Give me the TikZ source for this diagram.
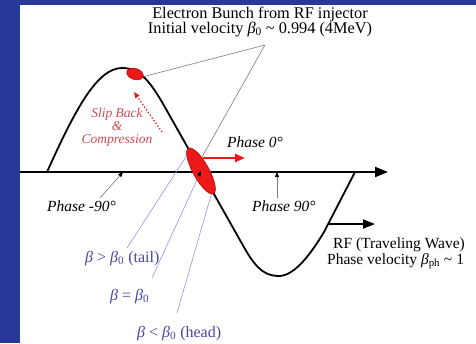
\documentclass[tikz,border=0pt]{standalone}
\usepackage{fontspec}
\setmainfont{Liberation Serif}
\usetikzlibrary{arrows.meta,shapes.geometric,calc}
\definecolor{bgblue}{RGB}{40,56,152}
\definecolor{bred}{RGB}{235,25,25}
\definecolor{slipred}{RGB}{212,72,84}
\definecolor{betablue}{RGB}{72,72,165}
\definecolor{lav}{RGB}{150,150,225}
\definecolor{pgray}{RGB}{125,125,125}
\begin{document}
\begin{tikzpicture}[x=1pt,y=-1pt,
  txt/.style={font=\fontsize{16.3}{15}\selectfont, inner sep=0pt, anchor=base},
  ptxt/.style={font=\fontsize{15.5}{15}\selectfont\itshape, inner sep=0pt, anchor=base west},
  btxt/.style={font=\fontsize{16}{15}\selectfont, text=betablue, inner sep=0pt, anchor=base west},
  stxt/.style={font=\fontsize{13.5}{13}\selectfont\itshape, text=slipred, inner sep=0pt, anchor=base},
  wave/.style={line width=1.8pt, black},
  axisline/.style={line width=2.2pt, black, -{Triangle[length=13pt,width=10pt]}},
  gline/.style={line width=0.6pt, pgray},
  lline/.style={line width=0.6pt, lav},
  tick/.style={line width=0.6pt, pgray, -{Triangle[length=5pt,width=4pt,color=black]}},
  bunchst/.style={ellipse, draw=red!70!black, line width=0.5pt, fill=bred, inner sep=0pt}
]
\useasboundingbox (0,0) rectangle (476,343);
\fill[bgblue] (0,0) rectangle (476,343);
\fill[white] (20,5) rectangle (476,343);

% axis
\coordinate (axL) at (20,172);
\coordinate (axR) at (388,172);
\draw[axisline] (axL) -- (axR);

% wave
\coordinate (w0) at (47,172);
\coordinate (rfa) at (328,224);
\coordinate (rfb) at (375,224);
\draw[wave] (w0) .. controls (75,110) and (97,68) .. (122,68)
  .. controls (140,68) and (150,82) .. (162,102)
  -- (245,249)
  .. controls (258,272) and (268,276) .. (279,276)
  .. controls (295,276) and (312,252) .. (324,232)
  -- (355,172);
\draw[line width=2pt, -{Triangle[length=12pt,width=9pt]}] (rfa) -- (rfb);

% texts
\node[txt] (t1) at (260,18.3) {Electron Bunch from RF injector};
\node[txt] (t2) at (260,33.3) {Initial velocity \textit{β}\textsubscript{0} \textasciitilde{} 0.994 (4MeV)};
\node[stxt] (s1) at (117,117) {Slip Back};
\node[stxt] (s2) at (117,130) {\&};
\node[stxt] (s3) at (117,143) {Compression};
\node[ptxt] (p0) at (227,147) {Phase 0°};
\node[ptxt] (pm90) at (47,211) {Phase -90°};
\node[ptxt] (p90) at (252,211) {Phase 90°};
\node[btxt] (tail) at (85,262) {\textit{β} > \textit{β}\textsubscript{0} (tail)};
\node[btxt] (eq) at (110,300) {\textit{β} = \textit{β}\textsubscript{0}};
\node[btxt] (head) at (137,337) {\textit{β} < \textit{β}\textsubscript{0} (head)};
\node[txt, anchor=base west, font=\fontsize{15.5}{15}\selectfont] (rf1) at (333,248) {RF (Traveling Wave)};
\node[txt, anchor=base west, font=\fontsize{15.5}{15}\selectfont] (rf2) at (327,264) {Phase velocity \textit{β}\textsubscript{ph} \textasciitilde{} 1};

% annotation coordinates
\coordinate (apex) at (265,45);
\coordinate (tend) at (202,157);
\coordinate (tailS) at (127,248);
\coordinate (tailE) at (189,152);
\coordinate (eqS) at (152,278);
\coordinate (headS) at (177,313);
\coordinate (headE) at (212,192);
\coordinate (tm90) at (123,172);
\coordinate (t90) at (277,172);
\coordinate (pm90S) at (100,198);
\coordinate (p90S) at (277,198);

% lines behind the bunch
\draw[lline] (tailS) -- (tailE);
\draw[lline] (eqS) -- (201,171);
\draw[lline] (headS) -- (headE);
\draw[gline] (apex) -- (tend);

% bunches
\node[bunchst, minimum width=52pt, minimum height=16pt, rotate=-61] (bunch) at (201,171) {};
\node[bunchst, minimum width=17pt, minimum height=11pt, rotate=-18] (bunch0) at (135,74) {};
\draw[gline] (bunch0.east) -- (apex);

% ticks
\draw[tick] (pm90S) -- (tm90);
\draw[tick] (p90S) -- (t90);
\draw[line width=0.1pt, black, -{Triangle[length=5pt,width=4pt]}] ($(bunch.center)!6pt!(eqS)$) -- (bunch.center);

% red arrows
\draw[bred, line width=2.2pt, -{Triangle[length=10pt,width=8pt]}] (203,158) -- (245,158);
\draw[bred, line width=1.3pt, dotted, -{Triangle[length=6pt,width=5pt]}] (162,132) -- (134,92);
\end{tikzpicture}
\end{document}
